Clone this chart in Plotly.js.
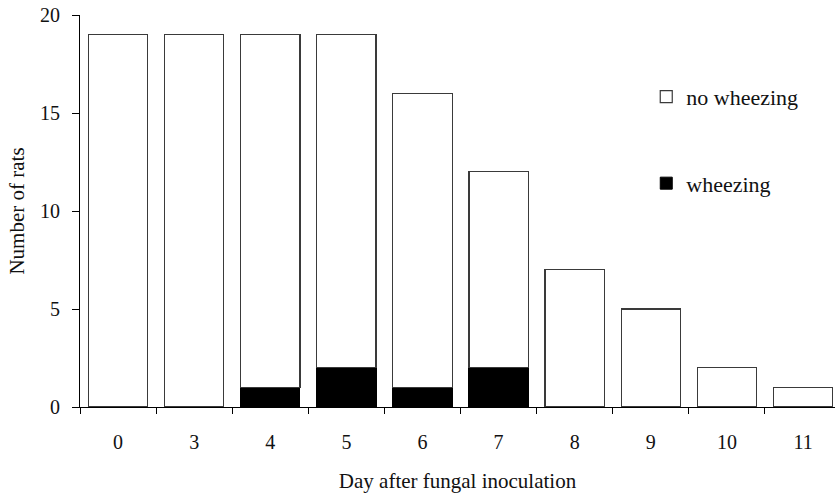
<!DOCTYPE html>
<html>
<head>
<meta charset="utf-8">
<script src="https://cdn.plot.ly/plotly-3.0.1.min.js"></script>
<style>
  html, body { margin: 0; padding: 0; background: #fff; }
  #chart { width: 835px; height: 496px; }
</style>
</head>
<body>
<div id="chart"></div>
<script>
// Days after fungal inoculation (categories)
const days = ['0', '3', '4', '5', '6', '7', '8', '9', '10', '11'];
// Rats showing wheezing on each day
const wheezing = [0, 0, 1, 2, 1, 2, 0, 0, 0, 0];
// Rats without wheezing on each day
const noWheezing = [19, 19, 18, 17, 15, 10, 7, 5, 2, 1];
const yTicks = [0, 5, 10, 15, 20];

const serif = "'Liberation Serif', 'Times New Roman', serif";

// empty segments are left out so no flat outline is drawn for them
const nz = arr => arr.map(v => (v === 0 ? null : v));

const traces = [
  {
    type: 'bar',
    name: 'wheezing',
    x: days,
    y: nz(wheezing),
    width: 0.78,
    legendgroup: 'w',
    legendrank: 2,
    marker: { color: '#000000', line: { color: '#000000', width: 1 } }
  },
  {
    type: 'bar',
    name: 'no wheezing',
    x: days,
    y: noWheezing,
    width: 0.78,
    legendgroup: 'nw',
    legendrank: 1,
    marker: { color: '#ffffff', line: { color: '#3a3a3a', width: 1.2 } }
  }
];

const layout = {
  width: 835,
  height: 496,
  barmode: 'stack',
  paper_bgcolor: '#ffffff',
  plot_bgcolor: '#ffffff',
  margin: { l: 80, r: 0, t: 15, b: 89 },
  font: { family: serif, size: 21, color: '#111111' },
  showlegend: true,
  legend: {
    x: 0.75,
    y: 0.845,
    xanchor: 'left',
    yanchor: 'top',
    traceorder: 'grouped',
    tracegroupgap: 55,
    itemwidth: 30,
    bgcolor: 'rgba(0,0,0,0)',
    font: { family: serif, size: 22, color: '#111111' }
  },
  xaxis: {
    type: 'category',
    range: [-0.5, 9.42],
    tickson: 'boundaries',
    ticks: 'outside',
    ticklen: 6,
    tickcolor: '#000',
    tickwidth: 1,
    showline: true,
    linecolor: '#000',
    linewidth: 1,
    showgrid: false,
    zeroline: false,
    ticklabelstandoff: 17,
    tickfont: { family: serif, size: 20, color: '#111' },
    title: { text: 'Day after fungal inoculation', standoff: 21, font: { family: serif, size: 21, color: '#111' } }
  },
  yaxis: {
    range: [0, 20],
    tickvals: yTicks,
    ticktext: yTicks.map(String),
    ticks: 'outside',
    ticklen: 7,
    tickcolor: '#000',
    tickwidth: 1,
    showline: true,
    linecolor: '#000',
    linewidth: 1,
    showgrid: false,
    zeroline: false,
    ticklabelstandoff: 8,
    tickfont: { family: serif, size: 20, color: '#111' },
    title: { text: 'Number of rats', standoff: 9, font: { family: serif, size: 21, color: '#111' } }
  }
};

Plotly.newPlot('chart', traces, layout, { displayModeBar: false, staticPlot: true });
</script>
</body>
</html>
